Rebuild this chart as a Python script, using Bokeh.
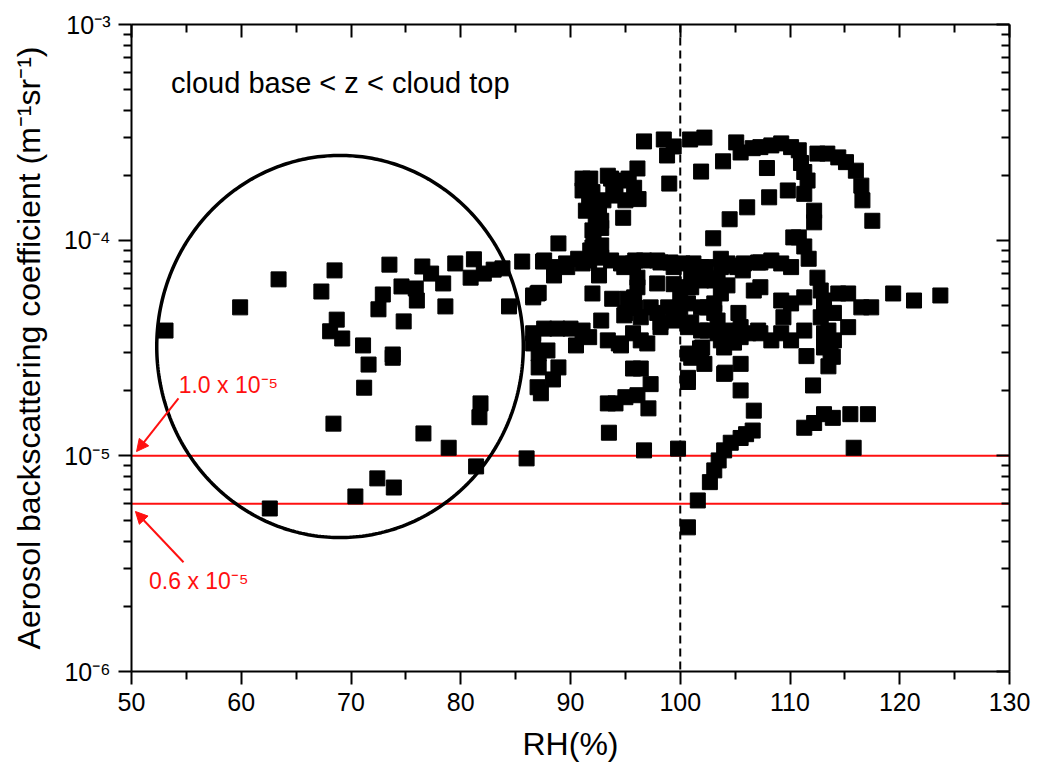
import numpy as np
from bokeh.plotting import figure
from bokeh.models import (Range1d, LinearAxis, LogAxis, FixedTicker, Span, Label,
                          Arrow, NormalHead, CustomJSTickFormatter)
from bokeh.embed import file_html
from bokeh.resources import INLINE

FONT = "Liberation Sans"

# ---------------- data (RH in %, beta in m^-1 sr^-1) ----------------
# points inside the circled region (RH < ~88 %)
rh_circle = [53.1, 59.9, 63.4, 68.5, 67.3, 73.5, 68.7, 68.1, 69.2, 71.1, 71.6, 71.2,
             72.9, 72.5, 73.8, 73.8, 74.6, 74.8, 75.9, 76.0, 76.5, 77.3, 78.4, 78.6,
             79.5, 80.9, 81.2, 82.1, 83.0, 83.8, 84.4, 85.6, 87.5, 86.6, 68.4, 81.8,
             81.7, 76.6, 78.9, 86.0, 81.4, 72.4, 73.9, 70.4, 62.6]
beta_circle = [3.81e-5, 4.88e-5, 6.58e-5, 7.24e-5, 5.78e-5, 7.70e-5, 4.28e-5, 3.78e-5,
               3.50e-5, 3.25e-5, 2.65e-5, 2.07e-5, 5.60e-5, 4.78e-5, 2.95e-5, 2.85e-5,
               6.10e-5, 4.20e-5, 5.97e-5, 5.25e-5, 7.55e-5, 7.00e-5, 6.30e-5, 4.93e-5,
               7.80e-5, 6.70e-5, 8.15e-5, 7.00e-5, 7.30e-5, 7.40e-5, 4.93e-5, 7.96e-5,
               7.96e-5, 5.54e-5, 1.41e-5, 1.75e-5, 1.51e-5, 1.27e-5, 1.09e-5, 9.73e-6,
               8.93e-6, 7.86e-6, 7.13e-6, 6.48e-6, 5.70e-6]

# upper cluster (beta > 9e-5)
rh_upper = [96.7, 98.5, 99.4, 98.8, 100.9, 102.2, 99.0, 101.9, 103.9, 96.1, 91.1, 91.8,
            93.7, 94.6, 95.3, 91.1, 92.0, 93.9, 95.8, 96.2, 91.7, 93.0, 94.8, 92.3,
            92.8, 92.0, 92.8, 92.1, 92.0, 106.1, 104.5, 103.0, 88.9, 91.4, 92.6, 91.8,
            92.8, 93.4, 95.0, 94.1]
beta_upper = [2.87e-4, 2.93e-4, 2.72e-4, 2.47e-4, 2.93e-4, 2.99e-4, 1.83e-4, 2.08e-4,
              2.32e-4, 2.15e-4, 1.93e-4, 1.93e-4, 1.93e-4, 1.89e-4, 1.93e-4, 1.70e-4,
              1.67e-4, 1.67e-4, 1.75e-4, 1.55e-4, 1.48e-4, 1.53e-4, 1.27e-4, 1.27e-4,
              1.23e-4, 1.11e-4, 1.14e-4, 1.02e-4, 9.25e-5, 1.42e-4, 1.25e-4, 1.02e-4,
              9.66e-5, 1.37e-4, 1.40e-4, 8.96e-5, 9.45e-5, 1.99e-4, 1.53e-4, 1.61e-4]

# dense band between ~5e-5 and ~8.5e-5
rh_band = [87.6, 88.5, 88.5, 89.7, 90.7, 91.7, 92.8, 93.7, 94.6, 95.7, 96.7, 97.9, 99.1,
           100.2, 101.2, 102.3, 103.7, 104.6, 105.8, 107.1, 92.6, 96.1, 97.9, 96.1, 95.8,
           100.0, 101.0, 101.9, 103.4, 104.3, 106.7, 92.0, 93.8, 87.0, 86.6, 89.6, 91.1,
           94.9, 95.9, 98.2, 99.4, 99.4, 100.7, 104.3, 103.7, 105.2, 101.9, 103.1, 101.0,
           103.7, 105.7, 87.1]
beta_band = [8.05e-5, 7.50e-5, 6.86e-5, 7.50e-5, 8.20e-5, 8.05e-5, 8.30e-5, 8.05e-5,
             7.80e-5, 7.80e-5, 8.05e-5, 8.05e-5, 7.88e-5, 7.80e-5, 7.80e-5, 7.50e-5,
             8.20e-5, 7.63e-5, 7.80e-5, 7.88e-5, 6.86e-5, 6.70e-5, 6.30e-5, 6.05e-5,
             5.43e-5, 5.66e-5, 6.05e-5, 6.50e-5, 6.65e-5, 6.17e-5, 5.84e-5, 5.66e-5,
             5.35e-5, 5.66e-5, 5.43e-5, 7.80e-5, 7.80e-5, 7.50e-5, 8.05e-5, 7.88e-5,
             7.50e-5, 6.25e-5, 6.05e-5, 7.80e-5, 7.50e-5, 7.50e-5, 7.50e-5, 6.50e-5,
             6.70e-5, 5.66e-5, 7.24e-5, 5.70e-5]

# band between ~2e-5 and ~5e-5
rh_mid = [95.0, 92.8, 95.8, 96.4, 97.9, 98.9, 99.8, 100.7, 101.9, 103.1, 103.1, 105.3,
          98.2, 99.4, 101.0, 101.9, 103.4, 104.6, 106.2, 107.1, 86.6, 87.6, 88.8, 90.0,
          91.1, 91.7, 90.5, 93.4, 94.4, 95.7, 96.4, 97.0, 86.6, 87.1, 87.9, 87.1, 88.9,
          88.4, 87.0, 87.3, 95.2, 95.9, 97.3, 94.9, 100.0, 98.2, 100.7, 102.5, 103.7,
          104.9, 94.6, 101.8, 102.5, 103.4, 104.3, 105.5, 102.0, 104.0, 105.5]
beta_mid = [4.60e-5, 4.24e-5, 4.88e-5, 4.39e-5, 4.60e-5, 4.88e-5, 4.60e-5, 5.09e-5,
            4.88e-5, 4.60e-5, 5.09e-5, 4.60e-5, 4.15e-5, 4.24e-5, 4.15e-5, 3.81e-5,
            3.70e-5, 3.43e-5, 3.70e-5, 3.81e-5, 3.70e-5, 3.89e-5, 3.89e-5, 3.89e-5,
            3.81e-5, 3.55e-5, 3.25e-5, 3.43e-5, 3.32e-5, 3.70e-5, 3.43e-5, 3.32e-5,
            3.32e-5, 2.98e-5, 3.08e-5, 2.57e-5, 2.57e-5, 2.26e-5, 2.08e-5, 1.95e-5,
            5.35e-5, 4.85e-5, 4.88e-5, 4.48e-5, 4.88e-5, 3.95e-5, 3.95e-5, 3.81e-5,
            3.43e-5, 3.35e-5, 3.25e-5, 3.15e-5, 4.88e-5, 4.24e-5, 3.81e-5, 3.55e-5,
            3.18e-5, 3.18e-5, 3.95e-5]

# lower scattered points (1e-5 .. 3e-5)
rh_low = [100.7, 101.9, 102.2, 105.5, 104.0, 95.7, 96.4, 97.3, 100.7, 100.7, 105.5,
          96.1, 95.0, 94.1, 93.4, 97.1, 106.7, 93.5, 96.7, 99.8, 101.0, 104.1]
beta_low = [2.98e-5, 3.08e-5, 2.67e-5, 2.67e-5, 2.40e-5, 2.54e-5, 2.54e-5, 2.15e-5,
            2.30e-5, 2.20e-5, 2.01e-5, 1.91e-5, 1.87e-5, 1.75e-5, 1.75e-5, 1.66e-5,
            1.62e-5, 1.28e-5, 1.06e-5, 1.08e-5, 2.85e-5, 2.43e-5]

# descending branch below 1.5e-5
rh_branch = [106.6, 106.0, 105.5, 104.6, 104.0, 103.5, 103.1, 102.7, 101.6, 100.7]
beta_branch = [1.31e-5, 1.26e-5, 1.21e-5, 1.15e-5, 1.06e-5, 9.52e-6, 8.56e-6, 7.55e-6,
               6.21e-6, 4.66e-6]

# supersaturated side (RH > ~105 %)
rh_right = [105.1, 105.5, 106.6, 107.3, 108.3, 109.2, 110.1, 110.8, 107.9, 111.0, 111.3,
            111.6, 111.3, 109.8, 108.1, 112.2, 112.2, 110.8, 111.3, 111.7, 110.3, 112.5,
            113.4, 114.4, 115.1, 116.0, 116.5, 116.6, 117.5, 112.5, 112.8, 114.4, 115.3,
            119.4, 121.3, 123.7, 116.5, 117.4, 112.8, 114.0, 115.3, 113.1, 114.0, 113.1,
            113.9, 113.5, 111.3, 111.5, 112.1, 111.3, 112.2, 113.1, 113.9, 115.5, 117.1,
            115.8, 107.3, 108.3, 109.2, 110.1, 107.3, 109.2, 110.1, 111.3, 109.4, 107.3,
            108.3, 109.2, 110.1, 113.1, 113.1, 113.5, 113.7]
beta_right = [2.84e-4, 2.55e-4, 2.67e-4, 2.70e-4, 2.75e-4, 2.81e-4, 2.70e-4, 2.61e-4,
              2.16e-4, 2.28e-4, 2.07e-4, 1.89e-4, 1.64e-4, 1.70e-4, 1.58e-4, 1.37e-4,
              1.21e-4, 1.03e-4, 9.35e-5, 8.20e-5, 1.03e-4, 2.52e-4, 2.52e-4, 2.42e-4,
              2.30e-4, 2.10e-4, 1.79e-4, 1.53e-4, 1.23e-4, 6.70e-5, 5.84e-5, 5.66e-5,
              5.66e-5, 5.66e-5, 5.25e-5, 5.54e-5, 4.88e-5, 4.88e-5, 4.39e-5, 4.60e-5,
              3.95e-5, 3.70e-5, 3.43e-5, 3.18e-5, 2.88e-5, 2.60e-5, 3.81e-5, 2.90e-5,
              2.12e-5, 1.35e-5, 1.42e-5, 1.56e-5, 1.50e-5, 1.56e-5, 1.56e-5, 1.09e-5,
              7.88e-5, 8.05e-5, 7.80e-5, 7.50e-5, 6.05e-5, 5.25e-5, 5.09e-5, 5.43e-5,
              4.39e-5, 3.70e-5, 3.43e-5, 3.70e-5, 3.43e-5, 5.25e-5, 4.72e-5, 3.81e-5,
              2.98e-5]

# ticks / reference values
x_major = [50, 60, 70, 80, 90, 100, 110, 120, 130]
x_minor = [55, 65, 75, 85, 95, 105, 115, 125]
y_exponents = [-6, -5, -4, -3]
y_mults = [2, 3, 4, 5, 6, 7, 8, 9]
thresh_hi = 1.0e-5
thresh_lo = 0.6e-5
rh_sat = 100

rh_all = rh_circle + rh_upper + rh_band + rh_mid + rh_low + rh_branch + rh_right
beta_all = beta_circle + beta_upper + beta_band + beta_mid + beta_low + beta_branch + beta_right

y_major = [10.0 ** e for e in y_exponents]
y_minor = [m * 10.0 ** e for e in y_exponents[:-1] for m in y_mults]

RED = "#ff1010"

# ---------------- figure ----------------
p = figure(frame_width=878, frame_height=647,
           x_range=Range1d(50, 130), y_range=Range1d(1e-6, 1e-3),
           y_axis_type="log", output_backend="svg", toolbar_location=None,
           min_border_left=131, min_border_top=24, min_border_right=26,
           min_border_bottom=100)
p.xgrid.visible = False
p.ygrid.visible = False
p.outline_line_color = None
p.background_fill_color = "white"
p.border_fill_color = "white"


def style(ax, inward):
    ax.axis_line_width = 2
    ax.axis_line_color = "black"
    ax.major_tick_line_width = 2
    ax.minor_tick_line_width = 2
    ax.major_tick_line_color = "black"
    ax.minor_tick_line_color = "black"
    if inward:
        ax.major_tick_in, ax.major_tick_out = 13, 0
        ax.minor_tick_in, ax.minor_tick_out = 8, 0
    else:
        ax.major_tick_in, ax.major_tick_out = 0, 13
        ax.minor_tick_in, ax.minor_tick_out = 0, 8
    ax.major_label_text_font = FONT
    ax.axis_label_text_font = FONT
    ax.axis_label_text_font_style = "normal"
    ax.major_label_text_color = "black"
    ax.axis_label_text_color = "black"


xa = p.xaxis[0]
xa.ticker = FixedTicker(ticks=x_major, minor_ticks=x_minor)
style(xa, False)
xa.major_label_text_font_size = "25px"
xa.major_label_standoff = 8
xa.axis_label = "RH(%)"
xa.axis_label_text_font_size = "32px"
xa.axis_label_standoff = 12

sup_code = """
const sup = {"-":"\u207b","0":"\u2070","1":"\u00b9","2":"\u00b2","3":"\u00b3",
             "4":"\u2074","5":"\u2075","6":"\u2076","7":"\u2077","8":"\u2078","9":"\u2079"};
const e = Math.round(Math.log10(tick));
return "10" + String(e).split("").map(c => sup[c]).join("");
"""

ya = p.yaxis[0]
ya.ticker = FixedTicker(ticks=y_major, minor_ticks=y_minor)
ya.formatter = CustomJSTickFormatter(code=sup_code)
style(ya, False)
ya.major_label_text_font_size = "25px"
ya.major_label_standoff = 8
ya.axis_label = "Aerosol backscattering coefficient (m\u207b\u00b9sr\u207b\u00b9)"
ya.axis_label_text_font_size = "32px"
ya.axis_label_standoff = 14

top = LinearAxis(ticker=FixedTicker(ticks=x_major, minor_ticks=x_minor),
                 formatter=CustomJSTickFormatter(code="return ''"))
style(top, True)
top.major_label_text_font_size = "0px"
top.major_label_standoff = 0
p.add_layout(top, "above")

right = LogAxis(ticker=FixedTicker(ticks=y_major, minor_ticks=y_minor),
                formatter=CustomJSTickFormatter(code="return ''"))
style(right, True)
right.major_label_text_font_size = "0px"
right.major_label_standoff = 0
p.add_layout(right, "right")

# reference lines
p.add_layout(Span(location=rh_sat, dimension="height", line_color="black",
                  line_width=2, line_dash="8 5", level="underlay"))
for t in (thresh_hi, thresh_lo):
    p.add_layout(Span(location=t, dimension="width", line_color=RED,
                      line_width=2, level="underlay"))

# data
p.scatter(rh_all, beta_all, marker="square", size=15,
          fill_color="black", line_color="black")

# circle marking the sub-saturated region
c_rh, c_rx = 69.0, 16.7
c_log, c_ry = -4.493, 0.886
tt = np.linspace(0, 2 * np.pi, 361)
p.line(c_rh + c_rx * np.cos(tt), 10 ** (c_log + c_ry * np.sin(tt)),
       line_color="black", line_width=3.5)

# annotations
p.add_layout(Label(x=53.6, y=5.38e-4, text="cloud base < z < cloud top",
                   text_font=FONT, text_font_size="29px", text_color="black",
                   text_baseline="alphabetic"))
p.add_layout(Label(x=54.3, y=2.14e-5, text="1.0 x 10\u207b\u2075",
                   text_font=FONT, text_font_size="23px", text_color=RED,
                   text_baseline="alphabetic"))
p.add_layout(Label(x=51.6, y=2.64e-6, text="0.6 x 10\u207b\u2075",
                   text_font=FONT, text_font_size="23px", text_color=RED,
                   text_baseline="alphabetic"))
p.add_layout(Arrow(end=NormalHead(size=12, fill_color=RED, line_color=RED),
                   x_start=54.28, y_start=1.845e-5, x_end=50.46, y_end=1.047e-5,
                   line_color=RED, line_width=2))
p.add_layout(Arrow(end=NormalHead(size=12, fill_color=RED, line_color=RED),
                   x_start=54.74, y_start=3.21e-6, x_end=50.36, y_end=5.52e-6,
                   line_color=RED, line_width=2))

open("out.html", "w").write(file_html(p, INLINE))
